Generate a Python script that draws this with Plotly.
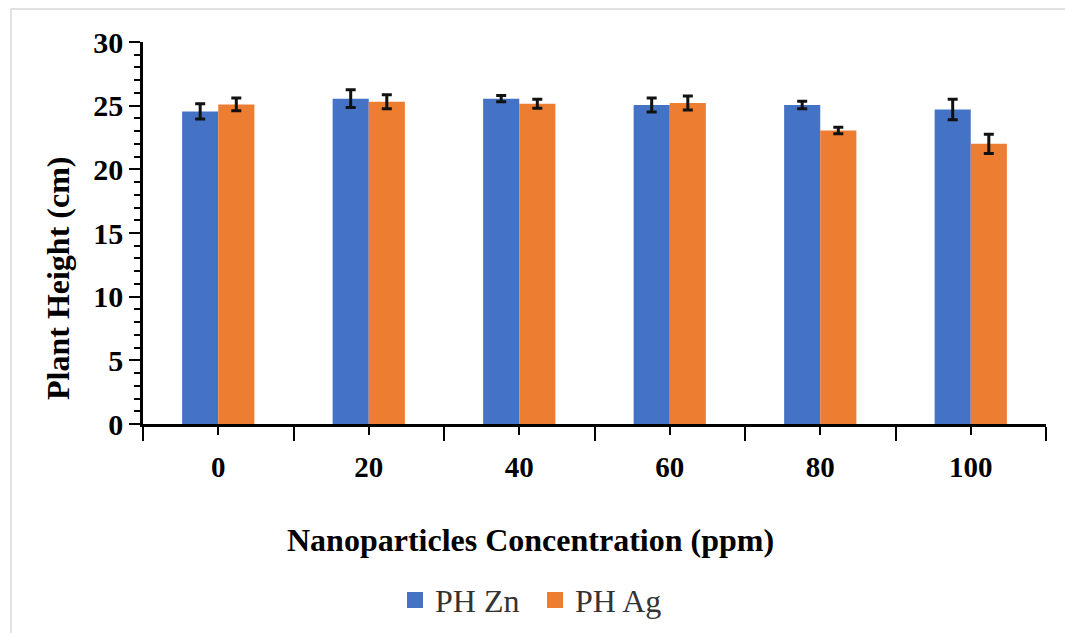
import plotly.graph_objects as go

categories = ["0", "20", "40", "60", "80", "100"]
zn_values = [24.55, 25.55, 25.55, 25.05, 25.05, 24.7]
zn_errors = [0.6, 0.7, 0.25, 0.55, 0.3, 0.8]
ag_values = [25.1, 25.3, 25.15, 25.2, 23.05, 22.0]
ag_errors = [0.5, 0.55, 0.35, 0.55, 0.25, 0.75]
y_ticks = [0, 5, 10, 15, 20, 25, 30]
series_names = ["PH Zn", "PH Ag"]
series_colors = ["#4472C4", "#ED7D31"]

xpos = list(range(len(categories)))
bounds = [i - 0.5 for i in range(len(categories) + 1)]

serif = "Liberation Serif"

fig = go.Figure()
for vals, errs, name, col in zip([zn_values, ag_values], [zn_errors, ag_errors],
                                 series_names, series_colors):
    fig.add_trace(go.Bar(
        x=xpos, y=vals, name=name, showlegend=False,
        marker=dict(color=col, line=dict(width=0)),
        error_y=dict(type="data", array=errs, visible=True,
                     color="#111111", thickness=3, width=5),
    ))
# legend swatches (larger squares, as in the reference)
for name, col in zip(series_names, series_colors):
    fig.add_trace(go.Scatter(
        x=[None], y=[None], mode="markers", name=name,
        marker=dict(symbol="square", size=20, color=col),
    ))

fig.update_layout(
    width=1065, height=633,
    margin=dict(l=143, r=19, t=42, b=209),
    paper_bgcolor="white", plot_bgcolor="white",
    barmode="group", bargap=0.52, bargroupgap=0,
    font=dict(family=serif, color="black"),
    showlegend=True,
    legend=dict(orientation="h", xref="container", yref="container",
                x=395 / 1065, xanchor="left", y=0.052, yanchor="middle",
                font=dict(family=serif, size=32, color="#333333"),
                itemwidth=30, tracegroupgap=0,
                entrywidth=95, entrywidthmode="pixels"),
    xaxis=dict(
        range=[-0.5, len(categories) - 0.5],
        tickmode="array", tickvals=xpos, ticktext=categories,
        ticks="outside", ticklen=8, tickwidth=2, tickcolor="black",
        tickfont=dict(family=serif, size=29, color="black", weight="bold"),
        ticklabelstandoff=7,
        minor=dict(tickmode="array", tickvals=bounds, ticks="outside",
                   ticklen=14, tickwidth=2, tickcolor="black"),
        showline=True, linecolor="black", linewidth=3,
        showgrid=False, zeroline=False,
    ),
    yaxis=dict(
        range=[0, 30],
        tickmode="array", tickvals=y_ticks,
        ticks="outside", ticklen=11, tickwidth=2, tickcolor="black",
        tickfont=dict(family=serif, size=30, color="black", weight="bold"),
        minor=dict(dtick=1, ticks="outside", ticklen=6, tickwidth=2,
                   tickcolor="black", showgrid=False),
        showline=True, linecolor="black", linewidth=2.5,
        showgrid=False, zeroline=False,
    ),
    annotations=[
        dict(text="<b>Nanoparticles Concentration (ppm)</b>", xref="paper", yref="paper",
             x=(530 - 143) / 903, y=(424 - 540) / 382, xanchor="center", yanchor="middle",
             showarrow=False, font=dict(family=serif, size=32, color="black")),
        dict(text="<b>Plant Height (cm)</b>", xref="paper", yref="paper",
             x=(58 - 143) / 903, y=(424 - 278) / 382, xanchor="center", yanchor="middle",
             textangle=-90, showarrow=False, font=dict(family=serif, size=32, color="black")),
    ],
)

# light frame around the chart (top and left edges visible)
fig.add_shape(type="line", xref="paper", yref="paper",
              x0=(11 - 143) / 903, x1=(1070 - 143) / 903,
              y0=(424 - 9) / 382, y1=(424 - 9) / 382,
              line=dict(color="#d9d9d9", width=1.5))
fig.add_shape(type="line", xref="paper", yref="paper",
              x0=(11 - 143) / 903, x1=(11 - 143) / 903,
              y0=(424 - 9) / 382, y1=(424 - 640) / 382,
              line=dict(color="#d9d9d9", width=1.5))

fig.write_html("out.html")
